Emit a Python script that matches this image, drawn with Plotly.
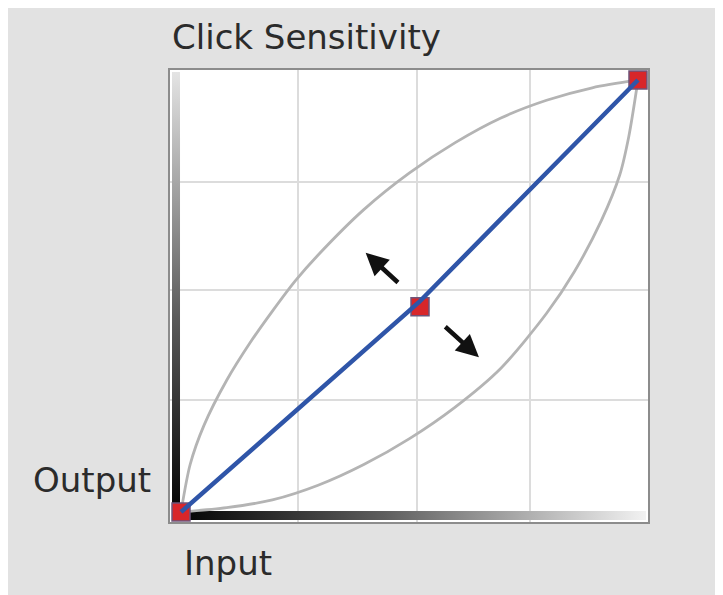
import plotly.graph_objects as go

# Curve points (input -> output, both 0..1)
upper_x = [0.0, 0.02, 0.05, 0.10, 0.15, 0.20, 0.25, 0.30, 0.40, 0.50, 0.60, 0.70, 0.80, 0.90, 1.0]
upper_y = [0.0, 0.11, 0.20, 0.305, 0.39, 0.465, 0.535, 0.595, 0.70, 0.785, 0.855, 0.912, 0.953, 0.982, 1.0]

lower_x = [0.0, 0.10, 0.20, 0.30, 0.40, 0.50, 0.60, 0.70, 0.80, 0.86, 0.92, 0.96, 0.98, 1.0]
lower_y = [0.0, 0.01, 0.028, 0.062, 0.11, 0.17, 0.243, 0.333, 0.46, 0.555, 0.675, 0.78, 0.87, 1.0]

# Blue response line and its control points
line_x = [0.0, 0.52, 1.0]
line_y = [0.0, 0.485, 1.0]
point_x = [0.0, 0.523, 1.0]
point_y = [0.0, 0.475, 1.0]

# Drag hint arrows (tail -> head)
arrow_tail_x = [0.478, 0.575]
arrow_tail_y = [0.528, 0.432]
arrow_head_x = [0.404, 0.652]
arrow_head_y = [0.600, 0.358]

grid_x = [0.256, 0.516, 0.764]
grid_y = [0.259, 0.514, 0.764]

fig = go.Figure()

# gradient strips along the left and bottom edges
fig.add_trace(go.Scatter(
    x=[-0.0197, -0.0022, -0.0022, -0.0197, -0.0197],
    y=[-0.0185, -0.0185, 1.0185, 1.0185, -0.0185],
    mode="lines", line=dict(width=0), fill="toself",
    fillgradient=dict(type="vertical", colorscale=[[0, "#000000"], [0.45, "#5a5a5a"], [1, "#e4e4e4"]]),
    hoverinfo="skip", showlegend=False,
))
fig.add_trace(go.Scatter(
    x=[-0.0197, 1.0175, 1.0175, -0.0197, -0.0197],
    y=[-0.0185, -0.0185, 0.0023, 0.0023, -0.0185],
    mode="lines", line=dict(width=0), fill="toself",
    fillgradient=dict(type="horizontal", colorscale=[[0, "#000000"], [0.45, "#5e5e5e"], [1, "#f2f2f2"]]),
    hoverinfo="skip", showlegend=False,
))

for cx, cy in [(upper_x, upper_y), (lower_x, lower_y)]:
    fig.add_trace(go.Scatter(
        x=cx, y=cy, mode="lines",
        line=dict(color="#b4b4b4", width=2.8, shape="spline", smoothing=0.8),
        hoverinfo="skip", showlegend=False,
    ))

fig.add_trace(go.Scatter(
    x=point_x, y=point_y, mode="markers",
    marker=dict(symbol="square", size=18, color="#d8262a", line=dict(color="#6e5479", width=1.5)),
    hoverinfo="skip", showlegend=False,
))
fig.add_trace(go.Scatter(
    x=line_x, y=line_y, mode="lines",
    line=dict(color="#2f55a8", width=4.5),
    hoverinfo="skip", showlegend=False,
))

for tx, ty, hx, hy in zip(arrow_tail_x, arrow_tail_y, arrow_head_x, arrow_head_y):
    fig.add_annotation(
        x=hx, y=hy, ax=tx, ay=ty, xref="x", yref="y", axref="x", ayref="y",
        text="", showarrow=True, arrowhead=2, arrowsize=1.0, arrowwidth=4.5,
        arrowcolor="#111111",
    )

txt = dict(family="DejaVu Sans, Verdana, sans-serif", size=34, color="#2b2b2b")
fig.add_annotation(text="Click Sensitivity", xref="paper", yref="paper", x=0.0, y=1.073,
                   xanchor="left", yanchor="middle", showarrow=False, font=txt)
fig.add_annotation(text="Output", xref="paper", yref="paper", x=-0.036, y=0.093,
                   xanchor="right", yanchor="middle", showarrow=False, font=txt)
fig.add_annotation(text="Input", xref="paper", yref="paper", x=0.025, y=-0.091,
                   xanchor="left", yanchor="middle", showarrow=False, font=txt)

axis = dict(showticklabels=False, ticks="", zeroline=False, showgrid=True,
            gridcolor="#dcdcdc", gridwidth=2, showline=True, mirror=True,
            linecolor="#8c8c8c", linewidth=2, fixedrange=True)
fig.update_xaxes(range=[-0.0241, 1.0219], tickvals=grid_x, **axis)
fig.update_yaxes(range=[-0.0231, 1.0231], tickvals=grid_y, **axis)

# the page body adds an 8px white margin, which gives the white strip top/left
fig.update_layout(
    width=715, height=587,
    margin=dict(l=162, r=75, t=62, b=73),
    paper_bgcolor="#e2e2e2", plot_bgcolor="#ffffff",
    showlegend=False,
)

fig.write_html("out.html")
